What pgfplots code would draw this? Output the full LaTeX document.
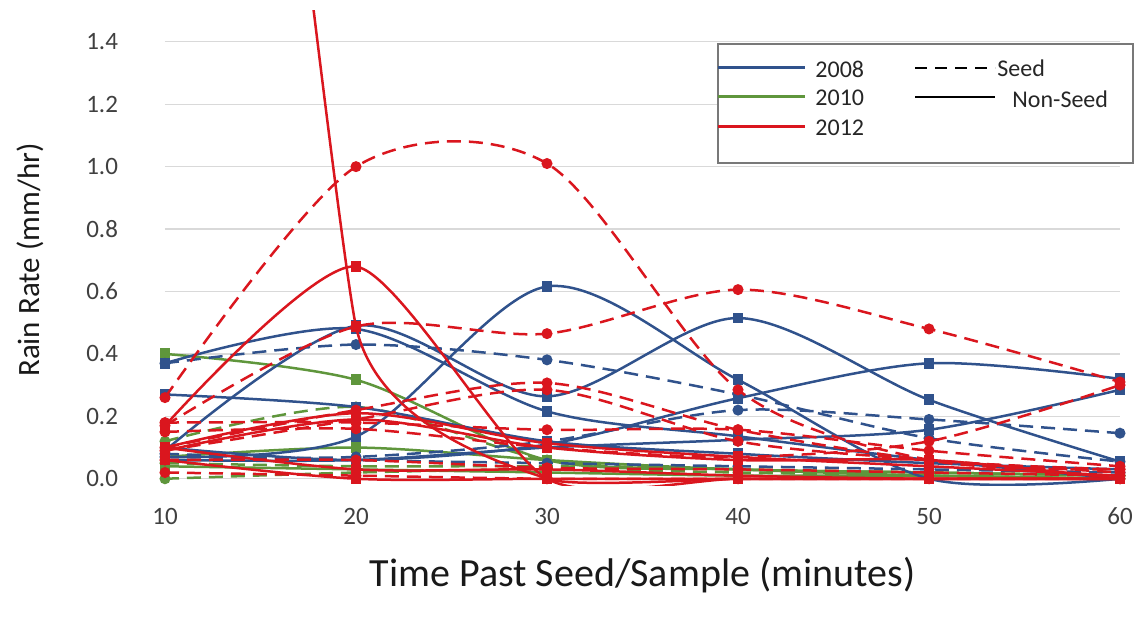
\documentclass[border=0pt]{standalone}
\usepackage{fontspec}
\setmainfont{Carlito}
\usepackage{pgfplots}
\pgfplotsset{compat=1.18}
\definecolor{cB}{RGB}{48,82,140}
\definecolor{cG}{RGB}{95,150,60}
\definecolor{cR}{RGB}{218,22,30}
\definecolor{gridc}{RGB}{217,217,217}
\definecolor{tickc}{RGB}{64,64,64}
\definecolor{legc}{RGB}{120,120,120}
\begin{document}
\begin{tikzpicture}
\begin{axis}[
  at={(0,0)}, anchor=south west,
  width=477.5pt, height=237.2pt, scale only axis,
  xmin=10, xmax=60, ymin=-0.02, ymax=1.5,
  axis line style={draw=none},
  major tick length=0pt,
  xtick={10,20,30,40,50,60},
  ytick={0,0.2,0.4,0.6,0.8,1.0,1.2,1.4},
  ymajorgrids, grid style={gridc, line width=0.6pt},
  ticklabel style={font=\fontsize{12.5}{14}\selectfont, text=tickc},
  /pgf/number format/assume math mode=true,
  yticklabel style={/pgf/number format/fixed, /pgf/number format/fixed zerofill, /pgf/number format/precision=1, xshift=-20pt},
  xticklabel style={yshift=-8pt},
  xlabel={Time Past Seed/Sample (minutes)},
  ylabel={Rain Rate (mm/hr)},
  xlabel style={at={(axis description cs:0.5,-0.1897)}, anchor=center, font=\fontsize{20}{24}\selectfont, text=black!90},
  ylabel style={at={(axis description cs:-0.1414,0.474)}, anchor=center, font=\fontsize{15.5}{18}\selectfont, text=black!90},
  clip mode=individual,
  every axis plot/.append style={line width=1.25pt, smooth, tension=0.5, mark size=2.1pt},
  sB/.style={cB, mark=square*, mark options={solid}},
  dB/.style={cB, mark=*, dash pattern=on 7pt off 4pt, mark options={solid}},
  sG/.style={cG, mark=square*, mark options={solid}},
  dG/.style={cG, mark=*, dash pattern=on 7pt off 4pt, mark options={solid}},
  sR/.style={cR, mark=square*, mark options={solid}},
  dR/.style={cR, mark=*, dash pattern=on 7pt off 4pt, mark options={solid}},
]
% 2010 (green)
\addplot[sG] coordinates {(10,0.40)(20,0.317)(30,0.06)(40,0.03)(50,0.01)(60,0.0)};
\addplot[sG] coordinates {(10,0.07)(20,0.10)(30,0.06)(40,0.03)(50,0.02)(60,0.01)};
\addplot[sG] coordinates {(10,0.04)(20,0.03)(30,0.02)(40,0.01)(50,0.01)(60,0.0)};
\addplot[dG] coordinates {(10,0.12)(20,0.23)(30,0.06)(40,0.03)(50,0.02)(60,0.01)};
\addplot[dG] coordinates {(10,0.0)(20,0.02)(30,0.03)(40,0.02)(50,0.01)(60,0.0)};
\addplot[dG] coordinates {(10,0.05)(20,0.04)(30,0.04)(40,0.03)(50,0.02)(60,0.01)};
% 2008 (blue)
\addplot[sB] coordinates {(10,0.37)(20,0.48)(30,0.216)(40,0.136)(50,0.06)(60,0.0)};
\addplot[sB] coordinates {(10,0.09)(20,0.49)(30,0.264)(40,0.515)(50,0.253)(60,0.055)};
\addplot[sB] coordinates {(10,0.07)(20,0.135)(30,0.616)(40,0.317)(50,0.0)(60,0.0)};
\addplot[sB] coordinates {(10,0.27)(20,0.23)(30,0.12)(40,0.08)(50,0.05)(60,0.03)};
\addplot[sB] coordinates {(10,0.10)(20,0.06)(30,0.11)(40,0.258)(50,0.37)(60,0.32)};
\addplot[sB] coordinates {(10,0.06)(20,0.06)(30,0.10)(40,0.125)(50,0.157)(60,0.285)};
\addplot[dB] coordinates {(10,0.37)(20,0.43)(30,0.381)(40,0.27)(50,0.13)(60,0.055)};
\addplot[dB] coordinates {(10,0.07)(20,0.07)(30,0.12)(40,0.22)(50,0.19)(60,0.146)};
\addplot[dB] coordinates {(10,0.08)(20,0.06)(30,0.05)(40,0.04)(50,0.03)(60,0.02)};
% 2012 (red)
\addplot[sR, tension=0.22] coordinates {(10,5.6)(20,0.488)(30,0.0)(40,0.0)(50,0.0)(60,0.0)};
\addplot[sR, tension=0.4] coordinates {(10,0.17)(20,0.68)(30,0.0)(40,0.0)(50,0.0)(60,0.0)};
\addplot[sR] coordinates {(10,0.10)(20,0.21)(30,0.114)(40,0.07)(50,0.04)(60,0.01)};
\addplot[sR] coordinates {(10,0.09)(20,0.19)(30,0.10)(40,0.06)(50,0.06)(60,0.0)};
\addplot[sR] coordinates {(10,0.10)(20,0.03)(30,0.03)(40,0.01)(50,0.0)(60,0.0)};
\addplot[sR] coordinates {(10,0.06)(20,0.0)(30,0.0)(40,0.0)(50,0.0)(60,0.0)};
\addplot[dR] coordinates {(10,0.26)(20,1.0)(30,1.01)(40,0.285)(50,0.06)(60,0.03)};
\addplot[dR] coordinates {(10,0.17)(20,0.488)(30,0.465)(40,0.606)(50,0.48)(60,0.31)};
\addplot[dR] coordinates {(10,0.10)(20,0.22)(30,0.307)(40,0.157)(50,0.06)(60,0.03)};
\addplot[dR] coordinates {(10,0.18)(20,0.18)(30,0.157)(40,0.157)(50,0.09)(60,0.04)};
\addplot[dR] coordinates {(10,0.15)(20,0.16)(30,0.10)(40,0.07)(50,0.12)(60,0.30)};
\addplot[dR] coordinates {(10,0.09)(20,0.19)(30,0.285)(40,0.12)(50,0.06)(60,0.02)};
\addplot[dR] coordinates {(10,0.06)(20,0.06)(30,0.035)(40,0.03)(50,0.02)(60,0.01)};
\addplot[dR] coordinates {(10,0.02)(20,0.01)(30,0.0)(40,0.0)(50,0.0)(60,0.0)};
\end{axis}
% legend
\draw[legc, line width=0.7pt, fill=white] (276.5pt,161pt) rectangle (484pt,220.5pt);
\draw[cB, line width=1.5pt] (276.5pt,208.5pt) -- (320pt,208.5pt);
\draw[cG, line width=1.5pt] (276.5pt,194pt) -- (320pt,194pt);
\draw[cR, line width=1.5pt] (276.5pt,179pt) -- (320pt,179pt);
\node[anchor=west, inner sep=0pt, font=\fontsize{12}{14}\selectfont, text=black!85] at (325pt,208pt) {2008};
\node[anchor=west, inner sep=0pt, font=\fontsize{12}{14}\selectfont, text=black!85] at (325pt,193.5pt) {2010};
\node[anchor=west, inner sep=0pt, font=\fontsize{12}{14}\selectfont, text=black!85] at (325pt,178.5pt) {2012};
\draw[black, line width=1.4pt, dash pattern=on 6pt off 4pt] (375pt,208.5pt) -- (415pt,208.5pt);
\draw[black, line width=1.4pt] (375pt,194pt) -- (415pt,194pt);
\node[anchor=west, inner sep=0pt, font=\fontsize{12}{14}\selectfont, text=black!85] at (416pt,208.5pt) {Seed};
\node[anchor=west, inner sep=0pt, font=\fontsize{12}{14}\selectfont, text=black!85] at (423.5pt,193pt) {Non-Seed};
\pgfresetboundingbox
\useasboundingbox (-82.5pt,-75.5pt) rectangle (489pt,242.5pt);
\end{tikzpicture}
\end{document}
